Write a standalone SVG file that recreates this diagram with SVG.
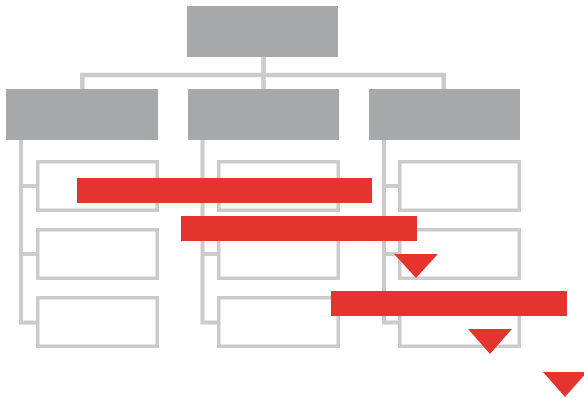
<svg xmlns="http://www.w3.org/2000/svg" width="584" height="400" viewBox="0 0 584 400">
<style>
.head{fill:#a7a8aa}
.leaf{fill:#ffffff;stroke:#cbcbcb;stroke-width:3.5}
.conn{fill:none;stroke:#cbcbcb;stroke-width:4}
.bar{fill:#e5342e}
</style>
<rect width="584" height="400" fill="#ffffff"/>
<g id="connectors">
<path class="conn" d="M263.5,57 V89 M82.3,89 V75 H443.8 V89" style="stroke-width:4.5"/>
<path class="conn" d="M21,140 V322.5 H37 M21,186 H37 M21,254 H37"/>
<path class="conn" d="M202.5,140 V322.5 H218 M202.5,186 H218 M202.5,254 H218"/>
<path class="conn" d="M384,140 V322.5 H399 M384,186 H399 M384,254 H399"/>
</g>
<g id="root"><rect class="head" x="187" y="6" width="151" height="51"/></g>
<g id="col1"><rect class="head" x="6" y="89" width="152" height="51"/></g>
<g id="col2"><rect class="head" x="188" y="89" width="151" height="51"/></g>
<g id="col3"><rect class="head" x="369" y="89" width="151" height="51"/></g>
<g id="c1r1"><rect class="leaf" x="37.75" y="161.75" width="119.5" height="48.5"/></g>
<g id="c1r2"><rect class="leaf" x="37.75" y="229.75" width="119.5" height="48.5"/></g>
<g id="c1r3"><rect class="leaf" x="37.75" y="297.75" width="119.5" height="48.5"/></g>
<g id="c2r1"><rect class="leaf" x="218.75" y="161.75" width="119.5" height="48.5"/></g>
<g id="c2r2"><rect class="leaf" x="218.75" y="229.75" width="119.5" height="48.5"/></g>
<g id="c2r3"><rect class="leaf" x="218.75" y="297.75" width="119.5" height="48.5"/></g>
<g id="c3r1"><rect class="leaf" x="399.75" y="161.75" width="119.5" height="48.5"/></g>
<g id="c3r2"><rect class="leaf" x="399.75" y="229.75" width="119.5" height="48.5"/></g>
<g id="c3r3"><rect class="leaf" x="399.75" y="297.75" width="119.5" height="48.5"/></g>
<g id="bar1"><rect class="bar" x="77" y="178" width="295" height="25"/></g>
<g id="bar2"><rect class="bar" x="181" y="216" width="236" height="25"/></g>
<g id="bar3"><rect class="bar" x="331" y="291" width="236" height="25"/></g>
<g id="tri1"><polygon class="bar" points="394,254 438,254 416,278"/></g>
<g id="tri2"><polygon class="bar" points="468,329 512,329 490,354"/></g>
<g id="tri3"><polygon class="bar" points="543,372 587,372 565,397"/></g>
</svg>
